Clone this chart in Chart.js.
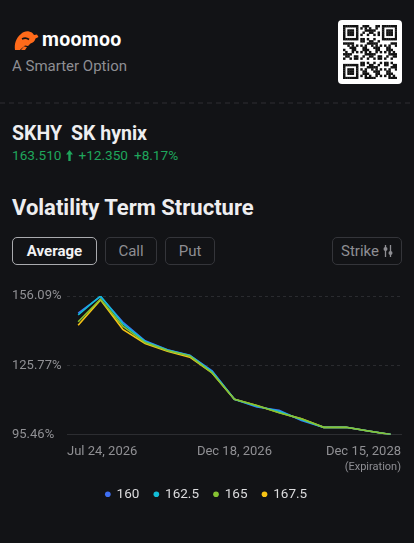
<!DOCTYPE html>
<html>
<head>
<meta charset="utf-8">
<script src="https://cdn.jsdelivr.net/npm/chart.js@4.4.1/dist/chart.umd.min.js"></script>
<style>
  html,body{margin:0;padding:0;background:#121316;}
  body{width:414px;height:543px;position:relative;overflow:hidden;font-family:Roboto,"Noto Sans",sans-serif;color:#e6e6e8;}
  .abs{position:absolute;white-space:nowrap;}
  .btn{position:absolute;box-sizing:border-box;height:28px;border:1px solid #34353a;border-radius:5px;color:#8e8e93;font-size:15px;display:flex;align-items:center;justify-content:center;}
  .btn.sel{border-color:#a9aaae;color:#f2f2f4;font-weight:700;}
  #chartWrap{position:absolute;left:0;top:280px;width:414px;height:240px;}
</style>
</head>
<body>
<!-- header -->
<svg class="abs" style="left:12px;top:30px" width="27" height="21" viewBox="0 0 27 21">
  <path d="M3 20 C2 14 4 8 9 4 C11 2 14 1 17 1.5 C19 1.8 21 3 22 5 L25 4.5 L26.5 7 L23.5 8.5 C23 11 21 13 18.5 13.5 L16 16 L13 15.5 C11 17 9 19 8 20 Z M9 20 L12 16.5 L15 17 L13 20 Z" fill="#ff6a1a"/>
  <path d="M10 9 C12 8 15 8 17 9.5" stroke="#121316" stroke-width="1.6" fill="none"/>
</svg>
<div class="abs" style="left:42px;top:28px;font-size:19.5px;font-weight:700;color:#fff;letter-spacing:0.3px;line-height:24px">moomoo</div>
<div class="abs" style="left:12px;top:57px;font-size:15px;color:#8e8e93;line-height:18px">A Smarter Option</div>
<div class="abs" style="left:338px;top:20px;width:64px;height:64px;background:#fff;border-radius:4px">
  <canvas id="qr" width="54" height="54" style="position:absolute;left:5px;top:5px"></canvas>
</div>
<svg class="abs" style="left:0;top:102px" width="414" height="2"><line x1="0" y1="1" x2="414" y2="1" stroke="#2e2f33" stroke-width="1" stroke-dasharray="5,4"/></svg>

<div class="abs" style="left:12px;top:122px;font-size:19.5px;font-weight:700;color:#eeeef0;line-height:24px">SKHY<span style="margin-left:9px">SK hynix</span></div>
<div class="abs" style="left:12px;top:147px;font-size:13.6px;color:#1fa65c;line-height:17px">163.510<svg style="margin:0 5px 0 5px;vertical-align:-1px" width="7" height="11" viewBox="0 0 7 11"><path d="M3.5 0 L7 4.5 L4.7 4.5 L4.7 11 L2.3 11 L2.3 4.5 L0 4.5 Z" fill="#1fa65c"/></svg>+12.350<span style="margin-left:6px">+8.17%</span></div>

<div class="abs" style="left:12px;top:194px;font-size:22px;font-weight:700;color:#eeeef0;line-height:27px">Volatility Term Structure</div>

<div class="btn sel" style="left:12px;top:237px;width:85px">Average</div>
<div class="btn" style="left:105px;top:237px;width:52px">Call</div>
<div class="btn" style="left:165px;top:237px;width:50px">Put</div>
<div class="btn" style="left:332px;top:237px;width:70px">Strike<svg style="margin-left:4px" width="10" height="12" viewBox="0 0 10 12"><line x1="2.5" y1="0" x2="2.5" y2="12" stroke="#8e8e93" stroke-width="1.3"/><line x1="7.5" y1="0" x2="7.5" y2="12" stroke="#8e8e93" stroke-width="1.3"/><circle cx="2.5" cy="4" r="2" fill="#8e8e93"/><circle cx="7.5" cy="8" r="2" fill="#8e8e93"/></svg></div>

<div id="chartWrap"><canvas id="c" width="414" height="240"></canvas></div>
<div class="abs" style="right:13px;top:460px;font-size:11px;color:#8e8e93;line-height:13px">(Expiration)</div>

<script>
// ---------- data ----------
const seriesNames = ['160', '162.5', '165', '167.5'];
const seriesColors = ['#3f6ff2', '#12bcd6', '#86c232', '#f7c314'];
const xTickLabels = ['Jul 24, 2026', 'Dec 18, 2026', 'Dec 15, 2028'];
const xTickIndex = [0, 7, 14];
const yTickValues = [95.46, 125.775, 156.09];
const yTickLabels = ['95.46%', '125.77%', '156.09%'];
const iv160   = [148.6, 155.8, 144.7, 136.5, 132.6, 130.2, 123.3, 110.9, 107.5, 106.1, 101.6, 98.6, 98.6, 97.0, 95.46];
const iv162_5 = [147.8, 156.09, 144.0, 136.2, 132.4, 130.0, 123.0, 110.9, 107.8, 105.6, 101.9, 98.6, 98.6, 97.0, 95.46];
const iv165   = [144.8, 154.7, 142.9, 135.7, 132.2, 129.8, 122.4, 110.9, 108.2, 105.0, 102.3, 98.6, 98.6, 97.0, 95.46];
const iv167_5 = [143.3, 154.4, 141.5, 135.3, 131.9, 129.3, 122.4, 110.9, 108.2, 105.1, 102.3, 98.6, 98.6, 97.0, 95.46];
const seriesValues = [iv160, iv162_5, iv165, iv167_5];
const drawOrder = [3, 1, 0, 2];

// ---------- decorative QR ----------
(function(){
  const q = document.getElementById('qr').getContext('2d');
  const n = 25, m = 54 / n;
  q.fillStyle = '#111';
  function finder(cx, cy){
    for (let i=0;i<7;i++) for (let j=0;j<7;j++){
      const edge = i===0||j===0||i===6||j===6; const core = i>=2&&i<=4&&j>=2&&j<=4;
      if (edge||core) q.fillRect((cx+i)*m,(cy+j)*m,m+0.3,m+0.3);
    }
  }
  finder(0,0); finder(18,0); finder(0,18);
  for (let i=0;i<n;i++) for (let j=0;j<n;j++){
    const inF = (i<8&&j<8)||(i>16&&j<8)||(i<8&&j>16);
    if (inF) continue;
    if (((i*31 + j*17 + i*j*7) % 11) < 5) q.fillRect(i*m,j*m,m+0.3,m+0.3);
  }
})();

// ---------- chart ----------
const xMin = -0.5, xMax = 14.46;
const datasets = seriesNames.map((name, k) => ({
  label: name,
  data: seriesValues[k].map((v, i) => ({x: i, y: v})),
  borderColor: seriesColors[k],
  backgroundColor: seriesColors[k],
  borderWidth: 1.6,
  pointRadius: 0,
  tension: 0,
  order: drawOrder[k]
}));

new Chart(document.getElementById('c'), {
  type: 'line',
  data: { datasets },
  options: {
    responsive: false,
    devicePixelRatio: 1,
    animation: false,
    layout: { padding: { left: 12, right: 13, top: 16, bottom: 9 } },
    plugins: {
      tooltip: { enabled: false },
      legend: {
        position: 'bottom',
        align: 'center',
        labels: {
          usePointStyle: true,
          pointStyle: 'circle',
          boxWidth: 4,
          boxHeight: 4,
          padding: 15,
          color: '#dcdcde',
          font: { family: 'Roboto', size: 13.5 },
          sort: (a, b) => a.datasetIndex - b.datasetIndex,
          generateLabels: (chart) => Chart.defaults.plugins.legend.labels.generateLabels(chart).map(l => Object.assign(l, {lineWidth: 0}))
        }
      }
    },
    scales: {
      x: {
        type: 'linear',
        min: xMin,
        max: xMax,
        afterBuildTicks: (s) => { s.ticks = [{value: xMin}, {value: xTickIndex[1]}, {value: xMax}]; },
        afterFit: (s) => { s.height = 38; },
        grid: { display: false, drawTicks: false },
        border: { display: true, color: '#2c2d31', width: 1 },
        ticks: {
          autoSkip: false,
          maxRotation: 0,
          align: 'inner',
          padding: 9,
          color: '#909094',
          font: { family: 'Roboto', size: 13 },
          callback: (v, i) => xTickLabels[i]
        }
      },
      y: {
        min: yTickValues[0],
        max: yTickValues[2],
        afterBuildTicks: (s) => { s.ticks = yTickValues.map(v => ({value: v})); },
        afterFit: (s) => { s.width = 55; },
        grid: {
          drawTicks: false,
          tickLength: 0,
          color: (ctx) => ctx.index === 0 ? 'rgba(0,0,0,0)' : '#2a2b2f',
          lineWidth: 1
        },
        border: { display: false, dash: [3, 3] },
        ticks: {
          crossAlign: 'far',
          padding: 0,
          color: '#909094',
          font: { family: 'Roboto', size: 13 },
          callback: (v, i) => yTickLabels[i]
        }
      }
    }
  }
});
</script>
</body>
</html>
